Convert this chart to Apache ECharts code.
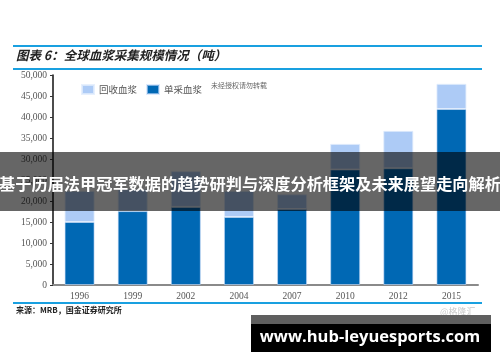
<!DOCTYPE html>
<html><head><meta charset="utf-8">
<script src="https://cdn.jsdelivr.net/npm/echarts@6/dist/echarts.min.js"></script>
<style>html,body{margin:0;padding:0;background:#fff}#c{width:500px;height:362px}</style>
</head><body><div id="c"></div>
<script>
const years = ['1996','1999','2002','2004','2007','2010','2012','2015'];
const apheresis = [15000, 17600, 18600, 16200, 18100, 27500, 27800, 41900]; // 单采血浆
const recovered = [7400, 5200, 8500, 6200, 3500, 6100, 8900, 6000];        // 回收血浆
const yTicks = {min: 0, max: 50000, interval: 5000};

const chart = echarts.init(document.getElementById('c'));
const fmt = v => v.toString().replace(/\B(?=(\d{3})+(?!\d))/g, ',');
chart.setOption({
  animation: false,
  grid: {left: 53, right: 22, top: 75, bottom: 77},
  legend: {
    data: ['回收血浆', '单采血浆'], left: 76, top: 79, itemWidth: 12, itemHeight: 9, itemGap: 9, icon: 'rect',
    textStyle: {fontSize: 9.5, color: '#555', fontFamily: 'Noto Sans CJK SC'}
  },
  xAxis: {
    type: 'category', data: years,
    axisLine: {lineStyle: {color: '#8a8a8a', width: 2}},
    axisTick: {show: false},
    axisLabel: {fontSize: 9.5, color: '#555', fontFamily: 'Liberation Serif', margin: 6}
  },
  yAxis: {
    type: 'value', min: yTicks.min, max: yTicks.max, interval: yTicks.interval,
    splitLine: {show: false},
    axisLine: {show: true, lineStyle: {color: '#111', width: 1.5}},
    axisTick: {show: true, length: 3, lineStyle: {color: '#333'}},
    axisLabel: {fontSize: 9.5, color: '#555', fontFamily: 'Liberation Serif', margin: 6, formatter: fmt}
  },
  series: [
    {name: '单采血浆', type: 'bar', stack: 't', data: apheresis, barWidth: 30,
     itemStyle: {color: '#0068b4', borderColor: 'rgba(200,220,250,0.6)', borderWidth: 1}},
    {name: '回收血浆', type: 'bar', stack: 't', data: recovered, barWidth: 30,
     itemStyle: {color: '#adcbf6', borderColor: 'rgba(225,236,252,0.8)', borderWidth: 1}}
  ],
  graphic: [
    {type: 'rect', shape: {x: 13, y: 45, width: 469, height: 2}, style: {fill: '#19a0e0'}, z: 50},
    {type: 'rect', shape: {x: 13, y: 68, width: 469, height: 2}, style: {fill: '#19a0e0'}, z: 50},
    {type: 'rect', shape: {x: 13, y: 302, width: 469, height: 2}, style: {fill: '#19a0e0'}, z: 50},
    {type: 'text', left: 16, top: 49, z: 50,
     style: {text: '图表 6：全球血浆采集规模情况（吨）', fontSize: 12.5, fontWeight: 'bold', fontStyle: 'italic',
             fill: '#222', fontFamily: 'Noto Sans CJK SC'}},
    {type: 'text', left: 211, top: 82, z: 50,
     style: {text: '未经授权请勿转载', fontSize: 7, fill: '#666', fontFamily: 'Noto Sans CJK SC'}},
    {type: 'text', left: 16, top: 306, z: 50,
     style: {text: '来源：MRB，国金证券研究所', fontSize: 8, fontWeight: 'bold', fill: '#222', fontFamily: 'Noto Sans CJK SC'}},
    {type: 'text', left: 440, top: 307, z: 50,
     style: {text: '@格隆汇', fontSize: 9, fill: '#c8c8c8', fontFamily: 'Noto Sans CJK SC'}},
    {type: 'rect', shape: {x: 0, y: 152, width: 500, height: 59}, style: {fill: 'rgba(0,0,0,0.6)'}, z: 100},
    {type: 'text', x: 250, y: 184, z: 101,
     style: {text: '基于历届法甲冠军数据的趋势研判与深度分析框架及未来展望走向解析', fontSize: 16.2, fontWeight: 'bold',
             fill: '#fff', align: 'center', verticalAlign: 'middle', fontFamily: 'Noto Sans CJK SC'}},
    {type: 'rect', shape: {x: 251, y: 315, width: 240, height: 37}, style: {fill: '#5f5f5f'}, z: 100},
    {type: 'rect', shape: {x: 251, y: 324, width: 240, height: 28}, style: {fill: '#000'}, z: 101},
    {type: 'text', x: 370, y: 337, z: 102,
     style: {text: 'www.hub-leyuesports.com', fontSize: 16.5, fontWeight: 'bold', fill: '#fff',
             align: 'center', verticalAlign: 'middle', fontFamily: 'Open Sans'}}
  ]
});
</script></body></html>
